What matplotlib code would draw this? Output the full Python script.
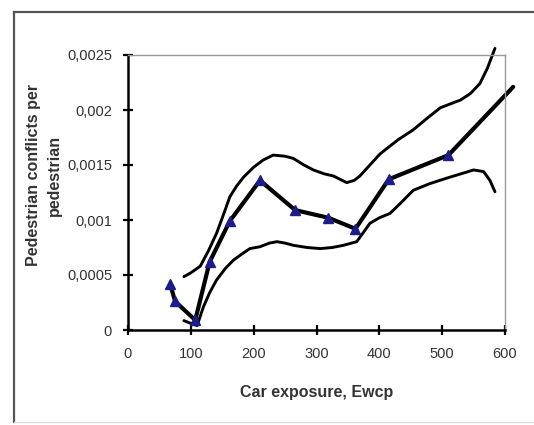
import matplotlib
matplotlib.use("Agg")
import matplotlib.pyplot as plt
from matplotlib.lines import Line2D

plt.rcParams['font.family'] = ['Liberation Sans', 'DejaVu Sans']

# Observed conflict rates (triangles) and the fitted line through them
obs_x = [67, 75, 107, 130, 162, 210, 266, 319, 362, 415, 510]
obs_y = [0.00042, 0.00026, 0.00009, 0.00062, 0.00099, 0.00136,
         0.00109, 0.00102, 0.00092, 0.00137, 0.00159]
fit_end_x = 613
fit_end_y = 0.00221

# Upper and lower confidence bands
upper_x = [89, 100, 115, 128, 141, 152, 162, 173, 184, 200, 215, 231, 250,
           263, 280, 295, 312, 327, 348, 360, 369, 385, 401, 412, 430, 454,
           475, 497, 515, 529, 545, 560, 572, 584]
upper_y = [0.000485, 0.00052, 0.00058, 0.00072, 0.00088, 0.00105, 0.00121,
           0.00131, 0.00139, 0.00148, 0.001545, 0.00159, 0.00158, 0.00156,
           0.00150, 0.001455, 0.00142, 0.00140, 0.00134, 0.00136, 0.00140,
           0.00150, 0.00160, 0.00165, 0.00173, 0.00182, 0.00192, 0.00202,
           0.00206, 0.00209, 0.00215, 0.00224, 0.00238, 0.00256]
lower_x = [89, 100, 110, 120, 130, 141, 155, 168, 181, 194, 210, 225, 237,
           250, 263, 285, 306, 325, 343, 364, 375, 385, 400, 417, 435, 454,
           480, 507, 530, 550, 566, 576, 584]
lower_y = [0.000085, 0.00006, 0.00004, 0.00021, 0.00034, 0.000455, 0.00056,
           0.000636, 0.00069, 0.00074, 0.000757, 0.00079, 0.000803, 0.00079,
           0.00077, 0.00075, 0.00074, 0.00075, 0.00077, 0.000803, 0.00089,
           0.00097, 0.00102, 0.00106, 0.00116, 0.00127, 0.00133, 0.00138,
           0.00142, 0.001455, 0.00144, 0.00136, 0.001257]

x_ticks = [0, 100, 200, 300, 400, 500, 600]
x_tick_labels = ['0', '100', '200', '300', '400', '500', '600']
y_ticks = [0, 0.0005, 0.001, 0.0015, 0.002, 0.0025]
y_tick_labels = ['0', '0,0005', '0,001', '0,0015', '0,002', '0,0025']

W, H = 534, 425
fig = plt.figure(figsize=(W / 100, H / 100), dpi=100)

# outer chart-area frame
fig.add_artist(Line2D([14 / W, 14 / W], [1 - 12 / H, 1 - 422 / H],
                      transform=fig.transFigure, color='#555555', lw=1.6))
fig.add_artist(Line2D([14 / W, 1.0], [1 - 12 / H, 1 - 12 / H],
                      transform=fig.transFigure, color='#555555', lw=1.6))
fig.add_artist(Line2D([14 / W, 1.0], [1 - 422 / H, 1 - 422 / H],
                      transform=fig.transFigure, color='#dddddd', lw=1.0))

left, right, top, bottom = 128, 505, 55, 330
ax = fig.add_axes([left / W, 1 - bottom / H, (right - left) / W, (bottom - top) / H])

line_kw = dict(color='black', clip_on=False,
               solid_capstyle='round', solid_joinstyle='round')
ax.plot(upper_x, upper_y, lw=2.1, **line_kw)
ax.plot(lower_x, lower_y, lw=2.1, **line_kw)
ax.plot(obs_x + [fit_end_x], obs_y + [fit_end_y], lw=3.0, **line_kw)
ax.plot(obs_x, obs_y, ls='none', marker='^', ms=7, color='#1c1c8a',
        markeredgecolor='#1c1c8a', clip_on=False, zorder=5)

ax.set_xlim(0, 600)
ax.set_ylim(0, 0.0025)
ax.set_xticks(x_ticks)
ax.set_xticklabels(x_tick_labels)
ax.set_yticks(y_ticks)
ax.set_yticklabels(y_tick_labels)

for side in ('left', 'bottom'):
    ax.spines[side].set_color('black')
    ax.spines[side].set_linewidth(1.8)
for side in ('top', 'right'):
    ax.spines[side].set_color('#999999')
    ax.spines[side].set_linewidth(1.0)

ax.tick_params(axis='both', direction='inout', length=7, width=1.6,
               color='black', labelsize=10.5, labelcolor='#333333')
ax.tick_params(axis='x', pad=9)
ax.tick_params(axis='y', pad=8)

fig.text((left + right) / 2 / W, 1 - 392 / H, 'Car exposure, Ewcp',
         ha='center', va='center', fontsize=11.5, fontweight='bold',
         color='#333333')
fig.text(44 / W, 1 - 175 / H, 'Pedestrian conflicts per\npedestrian',
         ha='center', va='center', rotation=90, fontsize=11.5,
         fontweight='bold', color='#333333', linespacing=1.45)

fig.savefig('out.png', dpi=100)
